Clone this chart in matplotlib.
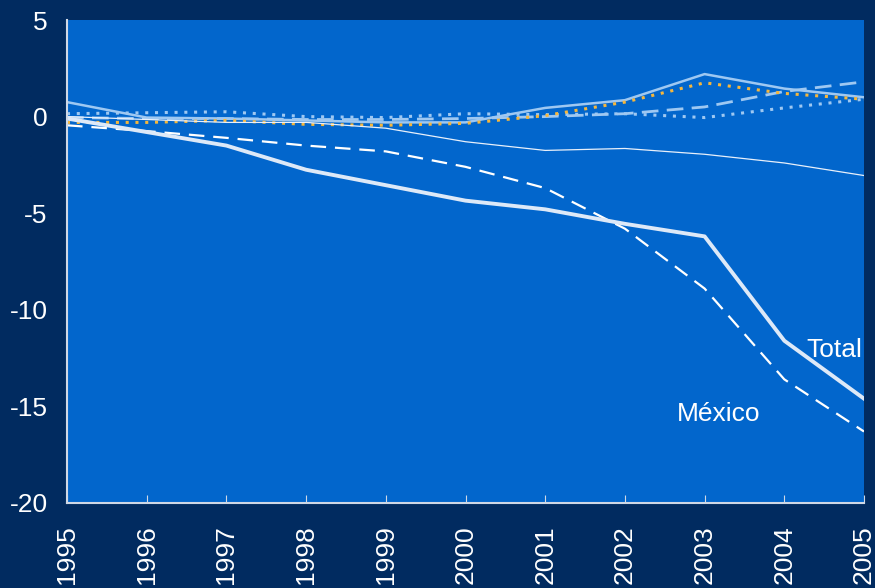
import matplotlib
matplotlib.use("Agg")
import matplotlib.pyplot as plt

years = [1995, 1996, 1997, 1998, 1999, 2000, 2001, 2002, 2003, 2004, 2005]
total = [-0.1, -0.8, -1.5, -2.75, -3.55, -4.35, -4.8, -5.55, -6.2, -11.6, -14.6]
mexico = [-0.45, -0.75, -1.1, -1.5, -1.8, -2.6, -3.7, -5.8, -8.9, -13.6, -16.3]
thin_white = [0.0, -0.15, -0.3, -0.3, -0.6, -1.3, -1.75, -1.65, -1.95, -2.4, -3.05]
lb_solid = [0.75, -0.05, -0.1, -0.2, -0.3, -0.3, 0.45, 0.85, 2.2, 1.45, 1.0]
orange_dot = [-0.3, -0.3, -0.2, -0.4, -0.45, -0.35, 0.05, 0.75, 1.75, 1.2, 0.9]
lb_dot = [0.15, 0.2, 0.25, 0.0, -0.05, 0.15, 0.1, 0.15, -0.05, 0.45, 0.9]
lb_dash = [-0.05, -0.1, -0.1, -0.15, -0.15, -0.1, 0.0, 0.15, 0.5, 1.3, 1.8]

yticks = [5, 0, -5, -10, -15, -20]

bg_out = "#012b60"
bg_in = "#0266cc"
lblue = "#9ec8f2"
fam = ["Liberation Sans", "DejaVu Sans"]

fig = plt.figure(figsize=(8.75, 5.88), dpi=100, facecolor=bg_out)
ax = fig.add_axes([67/875, 1-503/588, (864-67)/875, (503-20)/588])
ax.set_facecolor(bg_in)

ax.plot(years, lb_dash, color=lblue, lw=2.0, dashes=(6, 3))
ax.plot(years, lb_dot, color=lblue, lw=2.2, dashes=(1, 2.2))
ax.plot(years, lb_solid, color=lblue, lw=1.8)
ax.plot(years, orange_dot, color="#f6b73c", lw=2.2, dashes=(1, 2.2))
ax.plot(years, thin_white, color="#e8f0fb", lw=0.9)
ax.plot(years, mexico, color="white", lw=1.6, dashes=(7, 4))
ax.plot(years, total, color="#dde9f8", lw=2.8)

ax.set_xlim(1995, 2005)
ax.set_ylim(-20, 5)
ax.set_xticks(years)
ax.set_xticklabels([str(y) for y in years], rotation=90, fontsize=19,
                   color="white", family=fam)
ax.set_yticks(yticks)
ax.set_yticklabels([str(v) for v in yticks], fontsize=19, color="white",
                   family=fam)
ax.tick_params(axis="x", direction="in", length=6, color="#cfd8e6", pad=16)
ax.tick_params(axis="y", length=0, pad=14)

for s in ["top", "right"]:
    ax.spines[s].set_visible(False)
for s in ["left", "bottom"]:
    ax.spines[s].set_color("#cfd8e6")
    ax.spines[s].set_linewidth(1.5)

ax.text(2004.28, -12.1, "Total", fontsize=19, color="white",
        family=fam, va="center", ha="left")
ax.text(2002.65, -15.4, "México", fontsize=19, color="white",
        family=fam, va="center", ha="left")

fig.savefig("out.png", dpi=100, facecolor=bg_out)
